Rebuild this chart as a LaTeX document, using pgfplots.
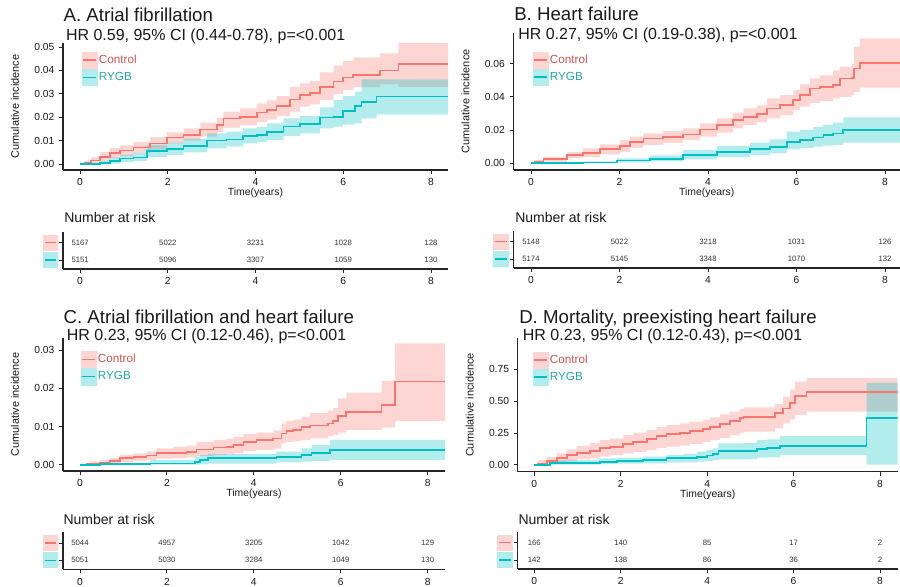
\documentclass[border=0pt]{standalone}
\usepackage{fontspec}
\setmainfont{Liberation Sans}
\usepackage{pgfplots}
\pgfplotsset{compat=1.18}
\usepackage{pgfplotstable}

\definecolor{ctrl}{HTML}{F8766D}
\definecolor{rygb}{HTML}{00BFC4}
\definecolor{ctrlband}{HTML}{FDD6D3}
\definecolor{rygbband}{HTML}{B3ECED}
\definecolor{ctrltxt}{HTML}{C25550}
\definecolor{rygbtxt}{HTML}{2AA5A8}

\newcommand\riskkey[2]{{\setlength\fboxsep{0pt}\colorbox{#1}{\makebox[11.5pt]{\rule[-6pt]{0pt}{12pt}\textcolor{#2}{\rule[-0.5pt]{8.5pt}{1pt}}}}}}

% ---------------- estimates (t, cumulative incidence) ----------------
\pgfplotstableread{
t est
0 0
0.11 0.0005
0.25 0.0015
0.46 0.0031
0.68 0.0048
0.91 0.0058
1.22 0.0070
1.60 0.0088
1.98 0.0113
2.36 0.0124
2.74 0.0148
3.12 0.0167
3.27 0.0195
3.65 0.0202
4.03 0.0220
4.26 0.0231
4.48 0.0248
4.79 0.0276
5.02 0.0295
5.24 0.0302
5.47 0.0328
5.78 0.0352
6.00 0.0370
6.23 0.0380
6.84 0.0399
7.26 0.0426
8.39 0.0426
}\Actrl
\pgfplotstableread{
t est
0 0
0.46 0.0005
0.68 0.0013
0.91 0.0024
1.22 0.0028
1.52 0.0057
1.98 0.0064
2.36 0.0078
2.89 0.0100
3.34 0.0105
3.72 0.0120
4.03 0.0124
4.26 0.0138
4.64 0.0160
5.02 0.0171
5.47 0.0199
5.78 0.0202
6.00 0.0226
6.27 0.0248
6.42 0.0266
6.76 0.0288
8.39 0.0288
}\Arygb
\pgfplotstableread{
t est
0 0
0.09 0.0010
0.28 0.0024
0.81 0.0048
1.18 0.0062
1.56 0.0083
2.01 0.0105
2.24 0.0129
2.54 0.0149
2.99 0.0159
3.44 0.0173
3.82 0.0203
4.20 0.0230
4.57 0.0260
4.80 0.0280
5.10 0.0296
5.33 0.0330
5.63 0.0350
5.93 0.0380
6.08 0.0410
6.31 0.0450
6.53 0.0457
6.83 0.0470
6.98 0.0510
7.25 0.0515
7.30 0.0571
7.44 0.0602
8.34 0.0602
}\Bctrl
\pgfplotstableread{
t est
0 0
0.60 0.0002
1.18 0.0004
1.94 0.0016
2.69 0.0026
3.44 0.0048
4.20 0.0068
4.95 0.0083
5.40 0.0099
5.78 0.0129
6.08 0.0139
6.38 0.0155
6.61 0.0169
6.83 0.0179
7.06 0.0199
8.34 0.0199
}\Brygb
\pgfplotstableread{
t est
0 0
0.15 0.0002
0.23 0.00035
0.46 0.0006
0.69 0.0010
0.92 0.0017
1.23 0.0021
1.53 0.0024
1.76 0.0030
2.15 0.0031
2.45 0.0034
2.68 0.0040
3.07 0.0045
3.37 0.0047
3.53 0.0052
3.76 0.0060
4.06 0.0065
4.45 0.0069
4.64 0.0082
4.75 0.0089
4.91 0.0091
5.10 0.0098
5.29 0.0103
5.71 0.0108
5.83 0.0115
5.94 0.0128
6.13 0.0139
6.94 0.0157
7.25 0.0218
8.40 0.0218
}\Cctrl
\pgfplotstableread{
t est
0 0
0.46 0.0001
1.61 0.00035
2.65 0.0008
2.76 0.0012
2.95 0.0017
4.52 0.0021
5.10 0.0025
5.33 0.0030
5.75 0.0038
8.40 0.0038
}\Crygb
\pgfplotstableread{
t est
0 0
0.09 0.010
0.29 0.031
0.52 0.050
0.75 0.076
0.98 0.094
1.29 0.110
1.52 0.129
1.75 0.142
2.06 0.160
2.29 0.181
2.60 0.202
2.83 0.226
3.06 0.239
3.37 0.252
3.60 0.265
3.91 0.283
4.07 0.299
4.30 0.320
4.53 0.346
4.76 0.365
4.84 0.378
5.46 0.378
5.57 0.404
5.76 0.443
5.92 0.483
6.03 0.540
6.30 0.574
8.41 0.574
}\Dctrl
\pgfplotstableread{
t est
0 0
0.36 0.016
1.52 0.024
1.91 0.031
2.52 0.037
3.06 0.050
3.45 0.055
3.76 0.063
3.99 0.073
4.14 0.084
4.26 0.108
4.84 0.110
5.15 0.123
5.38 0.129
5.69 0.147
7.69 0.365
8.41 0.365
}\Drygb

% ---------------- 95% CI bands: upper limit forward, lower limit backward ----------------
\pgfplotstableread{
t y
0 0
0.11 0.0012
0.25 0.0028
0.46 0.0052
0.68 0.0068
0.91 0.0080
1.22 0.0095
1.60 0.0115
1.98 0.0135
2.36 0.0152
2.74 0.0177
3.12 0.0198
3.27 0.0224
3.65 0.0238
4.03 0.0259
4.26 0.0272
4.48 0.0290
4.79 0.0330
5.02 0.0345
5.24 0.0355
5.47 0.0392
5.78 0.0420
6.00 0.0440
6.23 0.0456
6.84 0.0473
7.26 0.0520
8.39 0.0520
8.39 0.0330
7.26 0.0340
6.84 0.0328
6.23 0.0316
6.00 0.0300
5.78 0.0274
5.47 0.0255
5.24 0.0245
5.02 0.0224
4.79 0.0205
4.48 0.0190
4.26 0.0180
4.03 0.0165
3.65 0.0155
3.27 0.0135
3.12 0.0117
2.74 0.0100
2.36 0.0088
1.98 0.0062
1.60 0.0046
1.22 0.0035
0.91 0.0025
0.68 0.0012
0.46 0.0003
0.25 0
0.11 0
}\Actrlband
\pgfplotstableread{
t y
0 0
0.46 0.0012
0.68 0.0028
0.91 0.0040
1.22 0.0048
1.52 0.0081
1.98 0.0091
2.36 0.0108
2.89 0.0131
3.34 0.0138
3.72 0.0152
4.03 0.0158
4.26 0.0174
4.64 0.0195
5.02 0.0205
5.47 0.0242
5.78 0.0274
6.00 0.0290
6.27 0.0309
6.42 0.0362
6.76 0.0362
8.39 0.0362
8.39 0.0212
6.76 0.0195
6.42 0.0174
6.27 0.0168
6.00 0.0160
5.78 0.0152
5.47 0.0131
5.02 0.0120
4.64 0.0103
4.26 0.0093
4.03 0.0088
3.72 0.0075
3.34 0.0067
2.89 0.0050
2.36 0.0038
1.98 0.0031
1.52 0.0013
1.22 0.0008
0.91 0.0002
0.68 0
0.46 0
}\Arygbband
\pgfplotstableread{
t y
0 0
0.09 0.0018
0.28 0.0038
0.81 0.0068
1.18 0.0089
1.56 0.0112
2.01 0.0139
2.24 0.0160
2.54 0.0179
2.99 0.0192
3.44 0.0209
3.82 0.0240
4.20 0.0270
4.57 0.0305
4.80 0.0330
5.10 0.0348
5.33 0.0390
5.63 0.0410
5.93 0.0440
6.08 0.0475
6.31 0.0511
6.53 0.0530
6.83 0.0560
6.98 0.0582
7.25 0.0600
7.30 0.0703
7.44 0.0753
8.34 0.0753
8.34 0.0455
7.44 0.0430
7.30 0.0410
7.25 0.0400
6.98 0.0390
6.83 0.0375
6.53 0.0364
6.31 0.0340
6.08 0.0320
5.93 0.0290
5.63 0.0270
5.33 0.0245
5.10 0.0230
4.80 0.0210
4.57 0.0183
4.20 0.0160
3.82 0.0139
3.44 0.0122
2.99 0.0109
2.54 0.0092
2.24 0.0068
2.01 0.0053
1.56 0.0038
1.18 0.0028
0.81 0.0008
0.28 0.0002
0.09 0
}\Bctrlband
\pgfplotstableread{
t y
0 0
0.60 0.0005
1.18 0.0010
1.94 0.0028
2.69 0.0046
3.44 0.0079
4.20 0.0103
4.95 0.0123
5.40 0.0143
5.78 0.0189
6.08 0.0200
6.38 0.0219
6.61 0.0232
6.83 0.0244
7.06 0.0276
8.34 0.0276
8.34 0.0123
7.06 0.0109
6.83 0.0105
6.61 0.0099
6.38 0.0090
6.08 0.0083
5.78 0.0058
5.40 0.0048
4.95 0.0038
4.20 0.0022
3.44 0.0010
2.69 0.0004
1.94 0
1.18 0
0.60 0
}\Brygbband
\pgfplotstableread{
t y
0 0
0.15 0.0005
0.23 0.0008
0.46 0.0012
0.69 0.0017
0.92 0.0026
1.23 0.0030
1.53 0.0035
1.76 0.0043
2.15 0.0047
2.45 0.0050
2.68 0.0060
3.07 0.0065
3.37 0.0068
3.53 0.0073
3.76 0.0080
4.06 0.0084
4.45 0.0090
4.64 0.0108
4.75 0.0115
4.91 0.0118
5.10 0.0126
5.29 0.0135
5.71 0.0142
5.83 0.0148
5.94 0.0174
6.13 0.0189
6.94 0.0220
7.25 0.0318
8.40 0.0318
8.40 0.0115
7.25 0.0097
6.94 0.0091
6.13 0.0084
5.94 0.0078
5.83 0.0075
5.71 0.0069
5.29 0.0065
5.10 0.0062
4.91 0.0060
4.75 0.0056
4.64 0.0042
4.45 0.0038
4.06 0.0036
3.76 0.0030
3.53 0.0028
3.37 0.0026
3.07 0.0023
2.68 0.0019
2.45 0.0017
2.15 0.0016
1.76 0.0012
1.53 0.0010
1.23 0.0006
0.92 0.0002
0.69 0.0001
0.46 0
0.23 0
0.15 0
}\Cctrlband
\pgfplotstableread{
t y
0 0
0.46 0.0002
1.61 0.0012
2.65 0.0021
2.76 0.0025
2.95 0.0028
4.52 0.0034
5.10 0.0043
5.33 0.0052
5.75 0.0065
8.40 0.0065
8.40 0.0012
5.75 0.0010
5.33 0.0008
5.10 0.0006
4.52 0.0003
2.95 0.0001
2.76 0
2.65 0
1.61 0
0.46 0
}\Crygbband
\pgfplotstableread{
t y
0 0
0.09 0.037
0.29 0.060
0.52 0.089
0.75 0.120
0.98 0.147
1.29 0.170
1.52 0.194
1.75 0.208
2.06 0.233
2.29 0.252
2.60 0.273
2.83 0.295
3.06 0.312
3.37 0.325
3.60 0.338
3.91 0.355
4.07 0.373
4.30 0.395
4.53 0.417
4.76 0.440
4.84 0.451
5.46 0.451
5.57 0.477
5.76 0.535
5.92 0.590
6.03 0.653
6.30 0.680
8.41 0.680
8.41 0.417
6.30 0.391
6.03 0.355
5.92 0.325
5.76 0.286
5.57 0.260
5.46 0.260
4.84 0.250
4.76 0.233
4.53 0.210
4.30 0.194
4.07 0.178
3.91 0.163
3.60 0.150
3.37 0.142
3.06 0.130
2.83 0.115
2.60 0.100
2.29 0.089
2.06 0.075
1.75 0.063
1.52 0.052
1.29 0.042
0.98 0.028
0.75 0.010
0.52 0.004
0.29 0
0.09 0
}\Dctrlband
\pgfplotstableread{
t y
0 0
0.36 0.037
1.52 0.050
1.91 0.056
2.52 0.063
3.06 0.076
3.45 0.085
3.76 0.102
3.99 0.115
4.14 0.129
4.26 0.168
4.84 0.170
5.15 0.194
5.38 0.200
5.69 0.226
7.69 0.645
8.41 0.645
8.41 0
7.69 0.076
5.69 0.058
5.38 0.055
5.15 0.045
4.84 0.042
4.26 0.036
4.14 0.030
3.99 0.024
3.76 0.019
3.45 0.016
3.06 0.010
2.52 0.008
1.91 0.005
1.52 0
0.36 0
}\Drygbband

% ---------------- numbers at risk ----------------
\pgfplotstableread{
t y n
0 2 5167
2 2 5022
4 2 3231
6 2 1028
8 2 128
0 1 5151
2 1 5096
4 1 3307
6 1 1059
8 1 130
}\Arisk
\pgfplotstableread{
t y n
0 2 5148
2 2 5022
4 2 3218
6 2 1031
8 2 126
0 1 5174
2 1 5145
4 1 3348
6 1 1070
8 1 132
}\Brisk
\pgfplotstableread{
t y n
0 2 5044
2 2 4957
4 2 3205
6 2 1042
8 2 129
0 1 5051
2 1 5030
4 1 3284
6 1 1049
8 1 130
}\Crisk
\pgfplotstableread{
t y n
0 2 166
2 2 140
4 2 85
6 2 17
8 2 2
0 1 142
2 1 138
4 1 86
6 1 36
8 1 2
}\Drisk

\pgfplotsset{
  /pgf/number format/assume math mode=true,
  base/.style={scale only axis, axis lines*=left,
    axis line style={-, line width=0.8pt, draw=black!85},
    every tick/.style={line width=0.6pt, draw=black!85},
    tick align=outside, major tick length=3pt,
    xtick={0,2,4,6,8},
    tick label style={font=\fontsize{7.7}{9}\selectfont, text=black!90},
    scaled ticks=false,
    clip=true},
  km/.style={base, xlabel={Time(years)}, ylabel={Cumulative incidence},
    every axis x label/.style={at={(axis description cs:0.5,0)}, yshift=-17pt, anchor=center, font=\fontsize{7.8}{9}\selectfont, text=black!90},
    every axis y label/.style={at={(axis description cs:0,0.5)}, xshift=-36pt, rotate=90, anchor=center, font=\fontsize{8.2}{9}\selectfont, text=black!90},
    yticklabel style={/pgf/number format/fixed, /pgf/number format/fixed zerofill, /pgf/number format/precision=2},
    legend style={draw=none, fill=none, inner sep=0pt, outer sep=0pt, anchor=north west, row sep=0pt,
      font=\fontsize{8.8}{10}\selectfont, nodes={inner xsep=1.2pt, inner ysep=0pt}},
    legend cell align=left},
  risk/.style={base, ymin=0.48, ymax=2.62, ytick={1,2},
    yticklabels={\riskkey{rygbband}{rygb},\riskkey{ctrlband}{ctrl}},
    yticklabel style={inner sep=0.5pt}, height=27.75pt},
  riskn/.style={only marks, mark=*, mark size=0pt, nodes near coords, point meta=explicit symbolic,
    every node near coord/.append style={anchor=center, font=\fontsize{5.8}{7}\selectfont, text=black!80, inner sep=0pt}},
  ctrlkey/.style={legend image code/.code={\fill[ctrlband] (0pt,-6.2pt) rectangle (11.25pt,6.2pt); \draw[ctrl, line width=1.2pt] (0.6pt,0pt)--(10.65pt,0pt);}},
  rygbkey/.style={legend image code/.code={\fill[rygbband] (0pt,-6.2pt) rectangle (11.25pt,6.2pt); \draw[rygb, line width=1.2pt] (0.6pt,0pt)--(10.65pt,0pt);}},
  band/.style={const plot, draw=none, fill opacity=0.3, forget plot},
  curve/.style={const plot, line width=1.3pt, forget plot},
}

\begin{document}
\begin{tikzpicture}
\path[use as bounding box] (0pt,0pt) rectangle (675pt,-439.5pt);

% ---------- Panel A ----------
\begin{axis}[km, at={(47.25pt,-127.5pt)}, anchor=south west, width=288.75pt, height=95.25pt,
  xmin=-0.39, xmax=8.39, ymin=-0.00256, ymax=0.0517, ytick={0,0.01,0.02,0.03,0.04,0.05},
  legend style={at={(axis description cs:0.0486,0.9315)}}]
\addplot[band, fill=ctrl] table[x=t,y=y]{\Actrlband};
\addplot[band, fill=rygb] table[x=t,y=y]{\Arygbband};
\addplot[curve, ctrl] table[x=t,y=est]{\Actrl};
\addplot[curve, rygb] table[x=t,y=est]{\Arygb};
\addlegendimage{ctrlkey}\addlegendentry{\textcolor{ctrltxt}{Control}}
\addlegendimage{rygbkey}\addlegendentry{\textcolor{rygbtxt}{RYGB}}
\end{axis}

% ---------- Panel B ----------
\begin{axis}[km, at={(385.125pt,-127.5pt)}, anchor=south west, width=289.875pt, height=102.975pt,
  xmin=-0.395, xmax=8.34, ymin=-0.0042, ymax=0.0787, ytick={0,0.02,0.04,0.06},
  legend style={at={(axis description cs:0.0497,0.8616)}}]
\addplot[band, fill=ctrl] table[x=t,y=y]{\Bctrlband};
\addplot[band, fill=rygb] table[x=t,y=y]{\Brygbband};
\addplot[curve, ctrl] table[x=t,y=est]{\Bctrl};
\addplot[curve, rygb] table[x=t,y=est]{\Brygb};
\addlegendimage{ctrlkey}\addlegendentry{\textcolor{ctrltxt}{Control}}
\addlegendimage{rygbkey}\addlegendentry{\textcolor{rygbtxt}{RYGB}}
\end{axis}

% ---------- Panel C ----------
\begin{axis}[km, at={(47.25pt,-353.25pt)}, anchor=south west, width=286.5pt, height=99.75pt,
  xmin=-0.391, xmax=8.40, ymin=-0.00165, ymax=0.0332, ytick={0,0.01,0.02,0.03},
  legend style={at={(axis description cs:0.0463,0.902)}}]
\addplot[band, fill=ctrl] table[x=t,y=y]{\Cctrlband};
\addplot[band, fill=rygb] table[x=t,y=y]{\Crygbband};
\addplot[curve, ctrl] table[x=t,y=est]{\Cctrl};
\addplot[curve, rygb] table[x=t,y=est]{\Crygb};
\addlegendimage{ctrlkey}\addlegendentry{\textcolor{ctrltxt}{Control}}
\addlegendimage{rygbkey}\addlegendentry{\textcolor{rygbtxt}{RYGB}}
\end{axis}

% ---------- Panel D ----------
\begin{axis}[km, at={(388.275pt,-353.775pt)}, anchor=south west, width=285pt, height=100.05pt,
  xmin=-0.384, xmax=8.41, ymin=-0.055, ymax=0.994, ytick={0,0.25,0.5,0.75},
  legend style={at={(axis description cs:0.0395,0.8996)}}]
\addplot[band, fill=ctrl] table[x=t,y=y]{\Dctrlband};
\addplot[band, fill=rygb] table[x=t,y=y]{\Drygbband};
\addplot[curve, ctrl] table[x=t,y=est]{\Dctrl};
\addplot[curve, rygb] table[x=t,y=est]{\Drygb};
\addlegendimage{ctrlkey}\addlegendentry{\textcolor{ctrltxt}{Control}}
\addlegendimage{rygbkey}\addlegendentry{\textcolor{rygbtxt}{RYGB}}
\end{axis}

% ---------- Risk tables ----------
\begin{axis}[risk, at={(47.25pt,-201.75pt)}, anchor=south west, width=288.75pt, xmin=-0.39, xmax=8.39]
\addplot[riskn] table[x=t,y=y,meta=n]{\Arisk};
\end{axis}
\begin{axis}[risk, at={(385.125pt,-201pt)}, anchor=south west, width=289.875pt, xmin=-0.395, xmax=8.34]
\addplot[riskn] table[x=t,y=y,meta=n]{\Brisk};
\end{axis}
\begin{axis}[risk, at={(47.25pt,-426.975pt)}, anchor=south west, width=286.5pt, xmin=-0.391, xmax=8.40]
\addplot[riskn] table[x=t,y=y,meta=n]{\Crisk};
\end{axis}
\begin{axis}[risk, at={(388.275pt,-426.75pt)}, anchor=south west, width=285pt, xmin=-0.384, xmax=8.41]
\addplot[riskn] table[x=t,y=y,meta=n]{\Drisk};
\end{axis}

% ---------- Titles ----------
\tikzset{ttl/.style={anchor=base west, inner sep=0pt, font=\fontsize{14}{16}\selectfont, text=black!90},
         hr/.style={anchor=base west, inner sep=0pt, font=\fontsize{12}{14}\selectfont, text=black!90},
         nar/.style={anchor=base west, inner sep=0pt, font=\fontsize{10.5}{12}\selectfont, text=black!90}}
\node[ttl] at (47.5pt,-16.3pt) {A. Atrial fibrillation};
\node[hr]  at (49.3pt,-30pt) {HR 0.59, 95\% CI (0.44-0.78), p=<0.001};
\node[ttl] at (385.5pt,-15.5pt) {B. Heart failure};
\node[hr]  at (388.5pt,-29.5pt) {HR 0.27, 95\% CI (0.19-0.38), p=<0.001};
\node[ttl] at (47.5pt,-242.5pt) {C. Atrial fibrillation and heart failure};
\node[hr]  at (50pt,-255.5pt) {HR 0.23, 95\% CI (0.12-0.46), p=<0.001};
\node[ttl] at (389.25pt,-242.5pt) {D. Mortality, preexisting heart failure};
\node[hr]  at (392pt,-255.5pt) {HR 0.23, 95\% CI (0.12-0.43), p=<0.001};
\node[nar] at (48pt,-167pt) {Number at risk};
\node[nar] at (386.25pt,-167pt) {Number at risk};
\node[nar] at (47.5pt,-393pt) {Number at risk};
\node[nar] at (388.7pt,-393pt) {Number at risk};
\end{tikzpicture}
\end{document}
